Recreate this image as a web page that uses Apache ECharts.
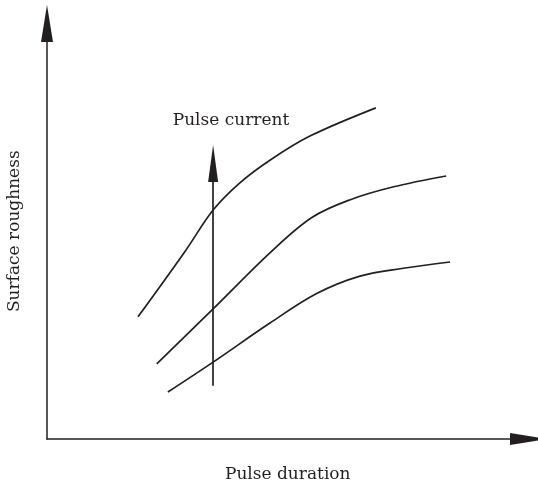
<!DOCTYPE html>
<html>
<head>
<meta charset="utf-8">
<script src="https://cdn.jsdelivr.net/npm/echarts@6/dist/echarts.min.js"></script>
<style>
  html, body { margin: 0; padding: 0; background: #fff; }
  #chart { width: 538px; height: 485px; }
</style>
</head>
<body>
<div id="chart"></div>
<script>
// schematic curves, arbitrary units (0-100 on both axes)
const xAxisName = 'Pulse duration'
const yAxisName = 'Surface roughness'
const arrowLabel = 'Pulse current'

const highCurrent = [[18.9, 29.4], [28.7, 45.2], [34.5, 55.1], [40.0, 61.6], [46.3, 67.1], [54.6, 72.9], [68.3, 79.7]]
const midCurrent = [[22.8, 18.1], [34.5, 31.3], [46.3, 44.8], [55.0, 53.3], [63.0, 57.6], [72.0, 60.7], [82.9, 63.3]]
const lowCurrent = [[25.1, 11.3], [34.5, 18.5], [46.3, 27.9], [56.0, 35.0], [65.0, 39.2], [74.0, 41.1], [83.7, 42.6]]
// arrow showing increasing pulse current
const arrowFrom = [34.5, 12.8]
const arrowTo = [34.5, 66.3]

const ink = '#231f20'
const font = 'DejaVu Serif'

const chart = echarts.init(document.getElementById('chart'))

const curve = (name, data) => ({
  name: name,
  type: 'line',
  data: data,
  smooth: 0.35,
  showSymbol: false,
  silent: true,
  lineStyle: { color: ink, width: 1.7 }
})

const axisLine = {
  show: true,
  symbol: ['none', 'triangle'],
  symbolSize: [12, 37],
  lineStyle: { color: ink, width: 1.5 }
}

const option = {
  animation: false,
  grid: { left: 47, right: 9.5, top: 23.5, bottom: 46, containLabel: false, outerBoundsMode: 'none' },
  xAxis: {
    type: 'value',
    min: 0,
    max: 100,
    name: xAxisName,
    nameLocation: 'middle',
    nameGap: 27,
    nameTextStyle: { fontFamily: font, fontSize: 17, color: ink },
    axisLine: axisLine,
    axisTick: { show: false },
    axisLabel: { show: false },
    splitLine: { show: false }
  },
  yAxis: {
    type: 'value',
    min: 0,
    max: 100,
    name: yAxisName,
    nameLocation: 'middle',
    nameGap: 24,
    nameTextStyle: { fontFamily: font, fontSize: 17, color: ink },
    axisLine: axisLine,
    axisTick: { show: false },
    axisLabel: { show: false },
    splitLine: { show: false }
  },
  series: [
    curve('high', highCurrent),
    curve('mid', midCurrent),
    curve('low', lowCurrent),
    {
      name: 'arrow',
      type: 'line',
      data: [],
      markLine: {
        silent: true,
        symbol: ['none', 'triangle'],
        symbolSize: [10, 37],
        label: { show: false },
        lineStyle: { color: ink, width: 1.7, type: 'solid' },
        data: [[{ coord: arrowFrom }, { coord: arrowTo }]]
      }
    }
  ],
  graphic: [{
    type: 'text',
    x: 231,
    y: 121,
    style: {
      text: arrowLabel,
      font: '17px "' + font + '"',
      fill: ink,
      textAlign: 'center',
      textVerticalAlign: 'middle'
    }
  }]
}

chart.setOption(option)
</script>
</body>
</html>
